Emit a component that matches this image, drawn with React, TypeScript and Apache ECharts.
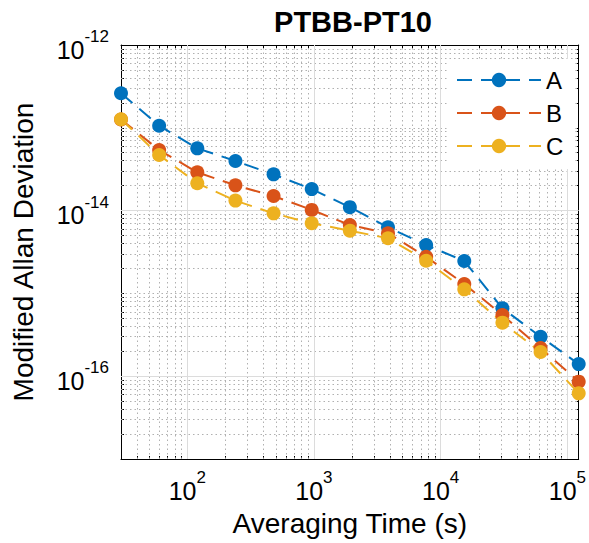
import React, { useEffect, useRef } from 'react';
import * as echarts from 'echarts';

const tau = [30, 60, 120, 240, 480, 960, 1920, 3840, 7680, 15360, 30720, 61440, 122880];
const seriesA = [2.61e-13, 1.06e-13, 5.65e-14, 3.97e-14, 2.74e-14, 1.82e-14, 1.1e-14, 6.29e-15, 3.84e-15, 2.46e-15, 6.61e-16, 3.0e-16, 1.4e-16];
const seriesB = [1.26e-13, 5.39e-14, 2.9e-14, 2.02e-14, 1.5e-14, 1.02e-14, 6.7e-15, 5.32e-15, 2.77e-15, 1.3e-15, 5.48e-16, 2.19e-16, 8.59e-17];
const seriesC = [1.27e-13, 4.69e-14, 2.14e-14, 1.32e-14, 9.27e-15, 7.03e-15, 5.72e-15, 4.63e-15, 2.48e-15, 1.12e-15, 4.43e-16, 1.96e-16, 6.21e-17];
const seriesNames = ['A', 'B', 'C'];
const seriesColors = ['#0072BD', '#D95319', '#EDB120'];

const xMin = 30;
const xMax = 122880;
const yMin = 1e-17;
const yMax = 1e-12;
const xMajorTicks = [1e2, 1e3, 1e4, 1e5];
const yMajorTicks = [1e-16, 1e-14, 1e-12];
const xDecades = [1, 2, 3, 4];
const yDecades = [-17, -16, -15, -14, -13];
const minorMultipliers = [2, 3, 4, 5, 6, 7, 8, 9];

const FONT = '"Liberation Sans", Arial, Helvetica, sans-serif';

function minorValues(decades: number[], min: number, max: number, extraDecades: number[]): number[] {
  const out: number[] = [];
  decades.forEach((e) => {
    minorMultipliers.forEach((m) => {
      const v = Number((m * Math.pow(10, e)).toPrecision(6));
      if (v > min && v < max) out.push(v);
    });
  });
  extraDecades.forEach((e) => {
    const v = Number(Math.pow(10, e).toPrecision(6));
    if (v > min && v < max) out.push(v);
  });
  return out;
}

const xMinor = minorValues(xDecades, xMin, xMax, []);
const yMinor = minorValues(yDecades, yMin, yMax, [-15, -13]);

function powLabel(v: number): string {
  const l = Math.log10(v);
  const e = Math.round(l);
  if (Math.abs(l - e) > 1e-6) return '';
  return `{b|10}{s|${e}}`;
}

const richLabel = {
  b: { fontSize: 25, fontFamily: FONT, color: '#000', lineHeight: 34, verticalAlign: 'bottom' },
  s: { fontSize: 17, fontFamily: FONT, color: '#000', lineHeight: 34, verticalAlign: 'top' },
};

export default function App() {
  const ref = useRef<HTMLDivElement>(null);
  useEffect(() => {
    if (!ref.current) return;
    const chart = echarts.init(ref.current, null, { renderer: 'svg' });

    const minorStyle = { color: '#b0b0b0', width: 1, type: [1.5, 3] };
    const majorStyle = { color: '#dcdcdc', width: 1, type: 'solid' };
    const gridLines: any[] = [
      ...xMinor.map((v) => ({ xAxis: v, lineStyle: minorStyle })),
      ...yMinor.map((v) => ({ yAxis: v, lineStyle: minorStyle })),
      ...xMajorTicks.filter((v) => v < xMax).map((v) => ({ xAxis: v, lineStyle: majorStyle })),
      ...yMajorTicks.filter((v) => v < yMax).map((v) => ({ yAxis: v, lineStyle: majorStyle })),
    ];

    const baseX = (position: string, ticks: number[], len: number, showLine: boolean, showLabel: boolean) => ({
      type: 'log',
      logBase: 10,
      min: xMin,
      max: xMax,
      position,
      offset: 0,
      axisLine: { show: showLine, onZero: false, lineStyle: { color: '#000', width: 1 } },
      axisTick: { show: true, inside: true, length: len, customValues: ticks, lineStyle: { color: '#000', width: 1 } },
      axisLabel: showLabel
        ? { show: true, customValues: xMajorTicks, formatter: powLabel, margin: 10, rich: richLabel }
        : { show: false },
      splitLine: { show: false },
      minorTick: { show: false },
    });
    const baseY = (position: string, ticks: number[], len: number, showLine: boolean, showLabel: boolean) => ({
      type: 'log',
      logBase: 10,
      min: yMin,
      max: yMax,
      position,
      offset: 0,
      axisLine: { show: showLine, onZero: false, lineStyle: { color: '#000', width: 1 } },
      axisTick: { show: true, inside: true, length: len, customValues: ticks, lineStyle: { color: '#000', width: 1 } },
      axisLabel: showLabel
        ? { show: true, customValues: yMajorTicks, formatter: powLabel, margin: 12, rich: richLabel }
        : { show: false },
      splitLine: { show: false },
      minorTick: { show: false },
    });

    const xMain: any = {
      ...baseX('bottom', xMajorTicks, 6, true, true),
      name: 'Averaging Time (s)',
      nameLocation: 'middle',
      nameGap: 50,
      nameTextStyle: { fontSize: 28, color: '#000', fontFamily: FONT },
    };
    const yMain: any = {
      ...baseY('left', yMajorTicks, 6, true, true),
      name: 'Modified Allan Deviation',
      nameLocation: 'middle',
      nameGap: 84,
      nameTextStyle: { fontSize: 28, color: '#000', fontFamily: FONT },
    };

    const dataSets = [seriesA, seriesB, seriesC];
    const lineSeries = dataSets.map((vals, i) => ({
      name: seriesNames[i],
      type: 'line',
      xAxisIndex: 0,
      yAxisIndex: 0,
      data: tau.map((t, j) => [t, vals[j]]),
      symbol: 'circle',
      symbolSize: 14,
      showSymbol: true,
      z: 3,
      lineStyle: { color: seriesColors[i], width: 2, type: [15, 9] },
      itemStyle: { color: seriesColors[i], borderWidth: 0 },
    }));

    chart.setOption({
      animation: false,
      backgroundColor: '#fff',
      grid: { left: 121, top: 45, right: 8, bottom: 84, containLabel: false },
      graphic: [
        {
          type: 'text',
          x: 353,
          y: 7,
          style: {
            text: 'PTBB-PT10',
            textAlign: 'center',
            textVerticalAlign: 'top',
            fontSize: 29,
            fontWeight: 'bold',
            fontFamily: FONT,
            fill: '#000',
          },
        },
      ],
      legend: {
        data: seriesNames,
        orient: 'vertical',
        left: 448,
        top: 59,
        padding: [9, 12, 11, 8],
        itemGap: 9,
        itemWidth: 84,
        itemHeight: 18,
        backgroundColor: '#fff',
        borderWidth: 0,
        z: 10,
        textStyle: { fontSize: 24, color: '#000', lineHeight: 24, fontFamily: FONT },
      },
      xAxis: [
        xMain,
        baseX('top', xMajorTicks, 6, true, false),
        baseX('bottom', xMinor, 3, false, false),
        baseX('top', xMinor, 3, false, false),
      ],
      yAxis: [
        yMain,
        baseY('right', yMajorTicks, 6, true, false),
        baseY('left', yMinor, 3, false, false),
        baseY('right', yMinor, 3, false, false),
      ],
      series: [
        {
          name: 'gridlines',
          type: 'line',
          xAxisIndex: 0,
          yAxisIndex: 0,
          data: [],
          z: 1,
          markLine: {
            silent: true,
            z: 1,
            precision: 20,
            symbol: ['none', 'none'],
            label: { show: false },
            emphasis: { disabled: true },
            animation: false,
            data: gridLines,
          },
        },
        ...lineSeries,
      ],
    } as any);
    return () => chart.dispose();
  }, []);
  return <div ref={ref} style={{ position: 'fixed', left: 0, top: 0, width: 589, height: 543 }} />;
}
